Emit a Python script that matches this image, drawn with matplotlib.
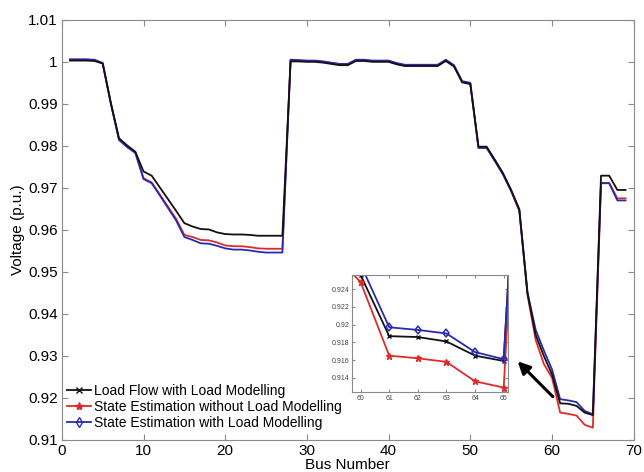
import matplotlib
matplotlib.use("Agg")
import matplotlib.pyplot as plt
from matplotlib.lines import Line2D
from matplotlib.ticker import FormatStrFormatter
import numpy as np

plt.rcParams['font.family'] = ['Liberation Sans', 'DejaVu Sans']

# bus voltages (p.u.), buses 1..69
bus = np.arange(1, 70)

load_flow = [
    1.0003, 1.0003, 1.0003, 1.0002, 0.9996, 0.9902, 0.9818, 0.9801, 0.9786, 0.9739,
    0.9729, 0.9701, 0.9673, 0.9645, 0.9616, 0.9608, 0.9602, 0.9601, 0.9594, 0.9590,
    0.9589, 0.9589, 0.9588, 0.9586, 0.9586, 0.9586, 0.9586, 1.0001, 1.0001, 1.0000,
    1.0000, 0.9998, 0.9995, 0.9992, 0.9992, 1.0002, 1.0002, 1.0000, 1.0000, 1.0000,
    0.9994, 0.9990, 0.9990, 0.9990, 0.9990, 0.9990, 1.0002, 0.9989, 0.9951, 0.9947,
    0.9798, 0.9798, 0.9767, 0.9735, 0.9695, 0.9649, 0.9449, 0.9350, 0.9300, 0.9256,
    0.9187, 0.9186, 0.9181, 0.9165, 0.9159, 0.9729, 0.9729, 0.9695, 0.9695,
]

se_without = [
    1.0005, 1.0005, 1.0005, 1.0004, 0.9997, 0.9901, 0.9815, 0.9798, 0.9784, 0.9723,
    0.9713, 0.9684, 0.9655, 0.9626, 0.9588, 0.9583, 0.9576, 0.9575, 0.9570, 0.9563,
    0.9561, 0.9561, 0.9559, 0.9556, 0.9555, 0.9555, 0.9555, 1.0004, 1.0003, 1.0002,
    1.0002, 1.0000, 0.9997, 0.9994, 0.9994, 1.0004, 1.0004, 1.0002, 1.0002, 1.0002,
    0.9996, 0.9992, 0.9992, 0.9992, 0.9992, 0.9992, 1.0004, 0.9991, 0.9953, 0.9949,
    0.9796, 0.9796, 0.9765, 0.9733, 0.9692, 0.9645, 0.9445, 0.9338, 0.9281, 0.9248,
    0.9165, 0.9162, 0.9158, 0.9136, 0.9129, 0.9712, 0.9712, 0.9675, 0.9675,
]

se_with = [
    1.0006, 1.0006, 1.0006, 1.0005, 0.9997, 0.9901, 0.9814, 0.9797, 0.9783, 0.9721,
    0.9711, 0.9682, 0.9652, 0.9622, 0.9583, 0.9576, 0.9568, 0.9567, 0.9562, 0.9556,
    0.9553, 0.9553, 0.9551, 0.9548, 0.9546, 0.9546, 0.9546, 1.0005, 1.0004, 1.0003,
    1.0003, 1.0001, 0.9998, 0.9995, 0.9995, 1.0005, 1.0005, 1.0003, 1.0003, 1.0003,
    0.9997, 0.9993, 0.9993, 0.9993, 0.9993, 0.9993, 1.0005, 0.9992, 0.9954, 0.9950,
    0.9795, 0.9795, 0.9764, 0.9732, 0.9693, 0.9647, 0.9451, 0.9362, 0.9313, 0.9268,
    0.9197, 0.9194, 0.9190, 0.9169, 0.9161, 0.9711, 0.9711, 0.9670, 0.9670,
]

labels = ["Load Flow with Load Modelling",
          "State Estimation without Load Modelling",
          "State Estimation with Load Modelling"]

c_black = "#111111"
c_red = "#dd2b2b"
c_blue = "#2a2ab0"
frame = "#8a8a8a"

fig = plt.figure(figsize=(6.44, 4.72), dpi=100)
ax = fig.add_axes([0.096, 0.068, 0.888, 0.890])

ax.plot(bus, se_without, color=c_red, lw=1.3)
ax.plot(bus, se_with, color=c_blue, lw=1.3)
ax.plot(bus, load_flow, color=c_black, lw=1.3)

ax.set_xlim(0, 70)
ax.set_ylim(0.91, 1.01)
ax.set_xticks(np.arange(0, 71, 10))
ax.set_yticks(np.arange(0.91, 1.0101, 0.01))
ax.yaxis.set_major_formatter(FormatStrFormatter('%g'))
ax.tick_params(direction='in', top=True, right=True, labelsize=11,
               length=4, color=frame, pad=3)
for s in ax.spines.values():
    s.set_color(frame)
ax.set_xlabel("Bus Number", fontsize=11, labelpad=0)
ax.set_ylabel("Voltage (p.u.)", fontsize=11, labelpad=2)

handles = [
    Line2D([], [], color=c_black, lw=1.3, marker='x', ms=4),
    Line2D([], [], color=c_red, lw=1.3, marker='*', ms=6),
    Line2D([], [], color=c_blue, lw=1.3, marker='d', ms=5, mfc='none'),
]
ax.legend(handles, labels, loc='lower left', frameon=False, fontsize=10,
          handlelength=1.7, handletextpad=0.2, labelspacing=0.15,
          borderaxespad=0.0, bbox_to_anchor=(0.0, 0.01))

ax.annotate("", xy=(55.8, 0.9287), xytext=(60.1, 0.9203),
            arrowprops=dict(arrowstyle='-|>', color='black', lw=2.2,
                            mutation_scale=18, shrinkA=0, shrinkB=0))

# zoomed inset, buses 60-65
ins = fig.add_axes([0.5466, 0.1695, 0.2422, 0.2479])
ins.plot(bus, load_flow, color=c_black, lw=1.3, marker='x', ms=3.5, mew=1)
ins.plot(bus, se_without, color=c_red, lw=1.3, marker='*', ms=5)
ins.plot(bus, se_with, color=c_blue, lw=1.3, marker='d', ms=4.5, mfc='none', mew=1.1)
ins.set_xlim(59.7, 65.15)
ins.set_ylim(0.9124, 0.9256)
ins.set_xticks(np.arange(60, 66, 1))
ins.set_yticks([0.914, 0.916, 0.918, 0.92, 0.922, 0.924])
ins.yaxis.set_major_formatter(FormatStrFormatter('%g'))
ins.tick_params(direction='in', top=True, right=True, labelsize=5,
                length=2, color=frame, pad=2, labelcolor='#444444')
for s in ins.spines.values():
    s.set_color(frame)
    s.set_linewidth(0.8)

fig.savefig("out.png", dpi=100)
